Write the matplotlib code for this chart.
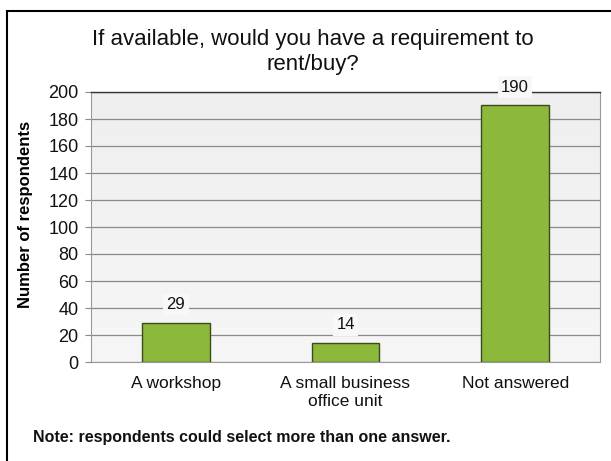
import matplotlib
matplotlib.use("Agg")
import matplotlib.pyplot as plt
from matplotlib.patches import Rectangle
import numpy as np

categories = ["A workshop", "A small business\noffice unit", "Not answered"]
values = [29, 14, 190]
yticks = [0, 20, 40, 60, 80, 100, 120, 140, 160, 180, 200]

title = "If available, would you have a requirement to\nrent/buy?"
ylabel = "Number of respondents"
note = "Note: respondents could select more than one answer."

plt.rcParams["font.family"] = ["Liberation Sans", "DejaVu Sans"]

W, H = 611, 461
fig = plt.figure(figsize=(W / 100, H / 100), dpi=100)
fig.patch.set_facecolor("white")

# outer chart frame
fig.add_artist(Rectangle((7 / W, -0.05), 1.0, (H - 11) / H + 0.05,
                         transform=fig.transFigure, fill=False,
                         edgecolor="black", linewidth=1.5))

left, right, top, bottom = 91, 600, 92, 362
ax = fig.add_axes([left / W, 1 - bottom / H, (right - left) / W, (bottom - top) / H])

# soft plot background
grad = np.linspace(0, 1, 256).reshape(-1, 1)
ax.imshow(grad, extent=(-0.5, 2.5, 0, 200), aspect="auto",
          cmap=matplotlib.colors.LinearSegmentedColormap.from_list(
              "bg", ["#f6f6f6", "#efefef"]), origin="lower", zorder=0)

x = np.arange(len(categories))
ax.bar(x, values, width=0.4, color="#8cb83c", edgecolor="#3d4a1e",
       linewidth=1.0, zorder=3)

for xi, v in zip(x, values):
    ax.text(xi, v + 8, str(v), ha="center", va="bottom", fontsize=12,
            color="#111111", zorder=4,
            bbox=dict(boxstyle="square,pad=0.2", facecolor="#f8f8f8",
                      edgecolor="none"))

ax.set_xlim(-0.5, 2.5)
ax.set_ylim(0, 200)
ax.set_yticks(yticks)
ax.set_yticklabels([str(t) for t in yticks], fontsize=13, color="#111111")
ax.set_xticks(x)
ax.set_xticklabels(categories, fontsize=12.5, color="#111111",
                   linespacing=1.3)
ax.tick_params(axis="x", length=0, pad=10)
ax.tick_params(axis="y", length=4, width=0.8, color="#888888", pad=5)

ax.yaxis.grid(True, color="#8a8a8a", linewidth=0.9, zorder=1)
ax.set_axisbelow(True)
for s in ["left", "bottom", "right"]:
    ax.spines[s].set_color("#999999")
    ax.spines[s].set_linewidth(0.8)
ax.spines["top"].set_color("#333333")
ax.spines["top"].set_linewidth(1.0)

ax.set_ylabel(ylabel, fontsize=12, fontweight="bold")
ax.yaxis.set_label_coords(-58 / (right - left), 0.545)

fig.text(313 / W, 1 - 52 / H, title, ha="center", va="center",
         fontsize=16, color="#111111", linespacing=1.25)

fig.text(33 / W, 1 - 437 / H, note, ha="left", va="center",
         fontsize=11.5, fontweight="bold", color="#111111")

fig.savefig("out.png", dpi=100, facecolor="white")
